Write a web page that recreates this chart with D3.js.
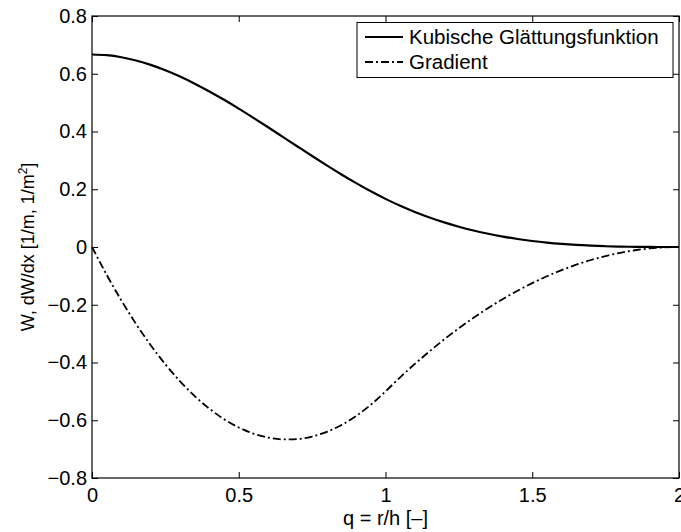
<!DOCTYPE html>
<html>
<head>
<meta charset="utf-8">
<script src="https://cdn.jsdelivr.net/npm/d3@7"></script>
<style>
body{margin:0;background:#fff;}
.chart text{font-family:"Liberation Sans",Arial,sans-serif;font-size:20px;fill:#000;}
</style>
</head>
<body>
<svg class="chart" width="681" height="532"></svg>
<script>
// q = r/h
var qVals = [0,0.05,0.1,0.15,0.2,0.25,0.3,0.35,0.4,0.45,0.5,0.55,0.6,0.65,0.7,0.75,0.8,0.85,0.9,0.95,
	1,1.05,1.1,1.15,1.2,1.25,1.3,1.35,1.4,1.45,1.5,1.55,1.6,1.65,1.7,1.75,1.8,1.85,1.9,1.95,2];
// Kubische Glättungsfunktion W
var wVals = [0.6667,0.6642,0.6572,0.6459,0.6307,0.6120,0.5902,0.5656,0.5387,0.5098,0.4792,0.4474,0.4147,0.3815,0.3482,0.3151,0.2827,0.2512,0.2212,0.1929,
	0.1667,0.1429,0.1215,0.1024,0.0853,0.0703,0.0572,0.0458,0.0360,0.0277,0.0208,0.0152,0.0107,0.0071,0.0045,0.0026,0.0013,0.0006,0.0002,0.0000,0];
// Gradient dW/dx
var gradVals = [0,-0.0963,-0.185,-0.2663,-0.34,-0.4063,-0.465,-0.5163,-0.56,-0.5963,-0.625,-0.6463,-0.66,-0.6663,-0.665,-0.6563,-0.64,-0.6163,-0.585,-0.5463,
	-0.5,-0.4513,-0.405,-0.3613,-0.32,-0.2813,-0.245,-0.2113,-0.18,-0.1513,-0.125,-0.1013,-0.08,-0.0613,-0.045,-0.0313,-0.02,-0.0113,-0.005,-0.0013,0];

var xTicks = [0,0.5,1,1.5,2];
var yTicks = [-0.8,-0.6,-0.4,-0.2,0,0.2,0.4,0.6,0.8];
var seriesNames = ["Kubische Glättungsfunktion","Gradient"];

var box = {l:92, r:679, t:16, b:478};

var svg = d3.select(".chart");

var scaleX = d3.scaleLinear().domain([0,2]).range([box.l,box.r]);
var scaleY = d3.scaleLinear().domain([-0.8,0.8]).range([box.b,box.t]);

function fmt(d){ return d<0 ? "\u2212"+String(-d) : String(d); }

//axes, ticks pointing inward like matlab
svg.append("g")
	.attr("transform","translate(0,"+box.b+")")
	.call(d3.axisBottom(scaleX).tickValues(xTicks).tickSizeInner(-6).tickSizeOuter(0).tickPadding(10).tickFormat(fmt));
svg.append("g")
	.attr("transform","translate(0,"+box.t+")")
	.call(d3.axisTop(scaleX).tickValues(xTicks).tickSizeInner(-6).tickSizeOuter(0).tickFormat(""));
svg.append("g")
	.attr("transform","translate("+box.l+",0)")
	.call(d3.axisLeft(scaleY).tickValues(yTicks).tickSizeInner(-6).tickSizeOuter(0).tickPadding(5).tickFormat(fmt));
svg.append("g")
	.attr("transform","translate("+box.r+",0)")
	.call(d3.axisRight(scaleY).tickValues(yTicks).tickSizeInner(-6).tickSizeOuter(0).tickFormat(""));

svg.selectAll(".domain").remove();
svg.selectAll(".tick line").attr("stroke","#000").attr("stroke-width",1);
svg.selectAll(".tick text").style("font-size","20px").attr("fill","#000");

svg.append("rect")
	.attr("x",box.l).attr("y",box.t)
	.attr("width",box.r-box.l).attr("height",box.b-box.t)
	.attr("fill","none").attr("stroke","#000").attr("stroke-width",1.2);

var line = d3.line()
	.x(function(d,i){return scaleX(qVals[i]);})
	.y(function(d){return scaleY(d);})
	.curve(d3.curveMonotoneX);

svg.append("path")
	.attr("d",line(wVals))
	.attr("fill","none").attr("stroke","#000").attr("stroke-width",2.2);

svg.append("path")
	.attr("d",line(gradVals))
	.attr("fill","none").attr("stroke","#000").attr("stroke-width",1.8)
	.attr("stroke-dasharray","8,3,2,3");

//legend
var legend = svg.append("g").attr("class","legend");
legend.append("rect")
	.attr("x",357).attr("y",22.5).attr("width",316).attr("height",55)
	.attr("fill","#fff").attr("stroke","#000").attr("stroke-width",1);

seriesNames.forEach(function(name,i){
	var y = 37 + i*25;
	legend.append("line")
		.attr("x1",365).attr("x2",403).attr("y1",y).attr("y2",y)
		.attr("stroke","#000")
		.attr("stroke-width",i==0?2.2:1.8)
		.attr("stroke-dasharray",i==0?null:"8,3,2,3");
	legend.append("text")
		.attr("x",409).attr("y",y)
		.attr("dy","0.35em")
		.style("font-size","20.5px")
		.text(name);
});

//axis labels
svg.append("text")
	.attr("x",(box.l+box.r)/2).attr("y",525)
	.attr("text-anchor","middle")
	.text("q = r/h [\u2013]");

var yl = svg.append("text")
	.attr("transform","translate(34,"+((box.t+box.b)/2)+") rotate(-90)")
	.attr("text-anchor","middle")
	.style("font-size","18px");
yl.append("tspan").text("W, dW/dx [1/m, 1/m");
yl.append("tspan").attr("baseline-shift","super").style("font-size","12px").text("2");
yl.append("tspan").text("]");
</script>
</body>
</html>
